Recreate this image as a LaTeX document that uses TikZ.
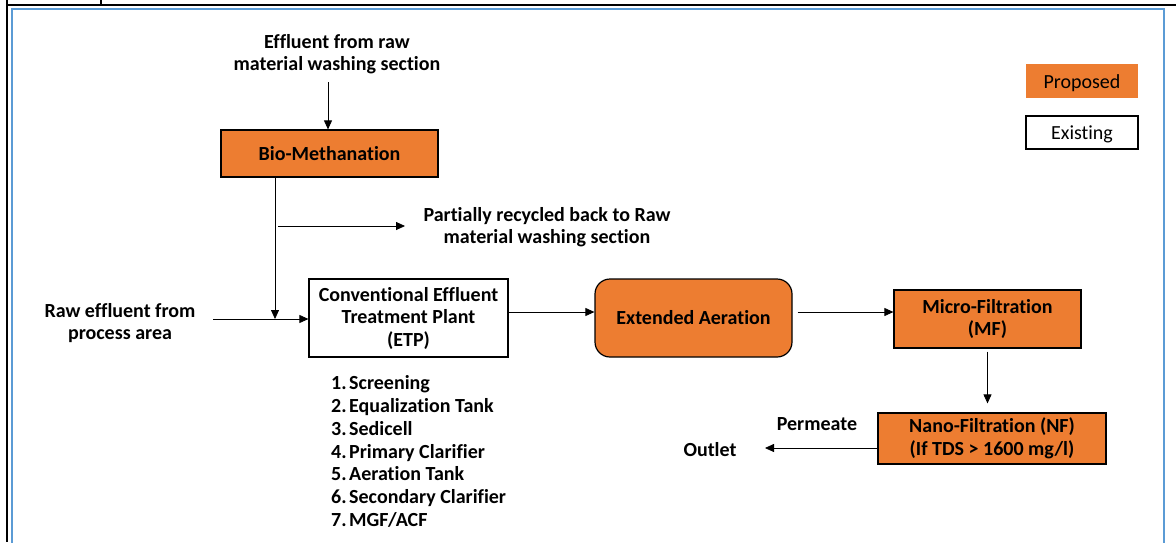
\documentclass[tikz,border=0pt]{standalone}
\usepackage{fontspec}
\setmainfont{Carlito}[Ligatures={NoCommon}]
\usetikzlibrary{arrows.meta}
\definecolor{prop}{HTML}{ED7D31}
\definecolor{frameblue}{HTML}{5B9BD5}
\begin{document}
\begin{tikzpicture}[x=1pt,y=-1pt,
  lbl/.style={font=\fontsize{20}{22.5}\selectfont\bfseries, align=center, inner sep=0pt},
  proposedbox/.style={draw=black, line width=1.2pt, fill=prop, font=\fontsize{20}{22.5}\selectfont\bfseries, align=center, inner sep=0pt},
  existingbox/.style={draw=black, line width=1.2pt, fill=white, font=\fontsize{20}{22.5}\selectfont\bfseries, align=center, inner sep=0pt},
  flow/.style={draw=black, line width=0.8pt, -{Triangle[length=9pt,width=8pt]}},
  itemtxt/.style={font=\fontsize{20}{22}\selectfont\bfseries, inner sep=0pt, anchor=base west}
]
\useasboundingbox (0,0) rectangle (1176,542);
\fill[white] (0,0) rectangle (1176,542);

% page frame
\draw[black, line width=2pt] (7,5) -- (1176,5);
\draw[black, line width=2pt] (7,0) -- (7,542);
\draw[black, line width=1.5pt] (101,0) -- (101,5);
\draw[frameblue, line width=2.2pt] (12,560) -- (12,9) -- (1164,9) -- (1164,560);

% sources and labels
\node[lbl] (efftop) at (337,54) {Effluent from raw\\material washing section};
\node[lbl] (recycle) at (547,227) {Partially recycled back to Raw\\material washing section};
\node[lbl] (raw) at (120,323) {Raw effluent from\\process area};
\node[lbl] (permeate) at (817,424) {Permeate};
\node[lbl] (outlet) at (710,450) {Outlet};

% process units
\node[proposedbox, minimum width=217pt, minimum height=47pt] (bio) at (329.5,153.5) {Bio-Methanation};
\node[existingbox, minimum width=199pt, minimum height=78pt] (etp) at (408.5,318)
  {Conventional Effluent\\Treatment Plant\\(ETP)};
\node[proposedbox, rounded corners=15pt, minimum width=197pt, minimum height=78pt] (ea) at (693.5,318) {Extended Aeration};
\node[proposedbox, minimum width=187pt, minimum height=58pt] (mf) at (987.5,319) {Micro-Filtration\\(MF)};
\node[proposedbox, minimum width=228pt, minimum height=51pt] (nf) at (992,438.5) {Nano-Filtration (NF)\\(If TDS > 1600 mg/l)};

% ETP stages
\foreach \i/\t in {1/Screening,2/Equalization Tank,3/Sedicell,4/Primary Clarifier,5/Aeration Tank,6/Secondary Clarifier,7/{MGF/ACF}}{
  \node[itemtxt] (num\i) at (331,{383+6.5+(\i-1)*22.85}) {\i.};
  \node[itemtxt] (item\i) at (349,{383+6.5+(\i-1)*22.85}) {\t};
}

% legend
\node[fill=prop, minimum width=112pt, minimum height=34pt, inner sep=0pt, font=\fontsize{20}{22}\selectfont] (legprop) at (1082,81) {\raisebox{-2.5pt}[\height][\depth]{Proposed}};
\node[draw=black, line width=1.2pt, fill=white, minimum width=112pt, minimum height=33pt, inner sep=0pt, font=\fontsize{20}{22}\selectfont] (legexist) at (1082,132.5) {\raisebox{-2pt}[\height][\depth]{Existing}};

% connectors
\coordinate (feedtop) at (328,82);
\draw[flow] (feedtop) -- (feedtop |- bio.north);

\coordinate (junction) at (275,319);
\draw[flow] (bio.south -| junction) -- (junction);

\coordinate (recstart) at (278,226);
\coordinate (recend) at (405,226);
\draw[flow] (recstart) -- (recend);

\coordinate (rawstart) at (213,319);
\draw[flow] (rawstart) -- (rawstart -| etp.west);

\draw[flow] ([yshift=6pt]etp.east) -- ([yshift=6pt]ea.west);
\coordinate (eaout) at ([xshift=5pt,yshift=6pt]ea.east);
\draw[flow] (eaout) -- (eaout -| mf.west);

\coordinate (mfout) at ([yshift=-3pt]mf.south);
\draw[flow] (mfout) -- ([yshift=9pt]nf.north -| mfout);

\coordinate (outend) at (765,448);
\draw[flow] (outend -| nf.west) -- (outend);
\end{tikzpicture}
\end{document}
